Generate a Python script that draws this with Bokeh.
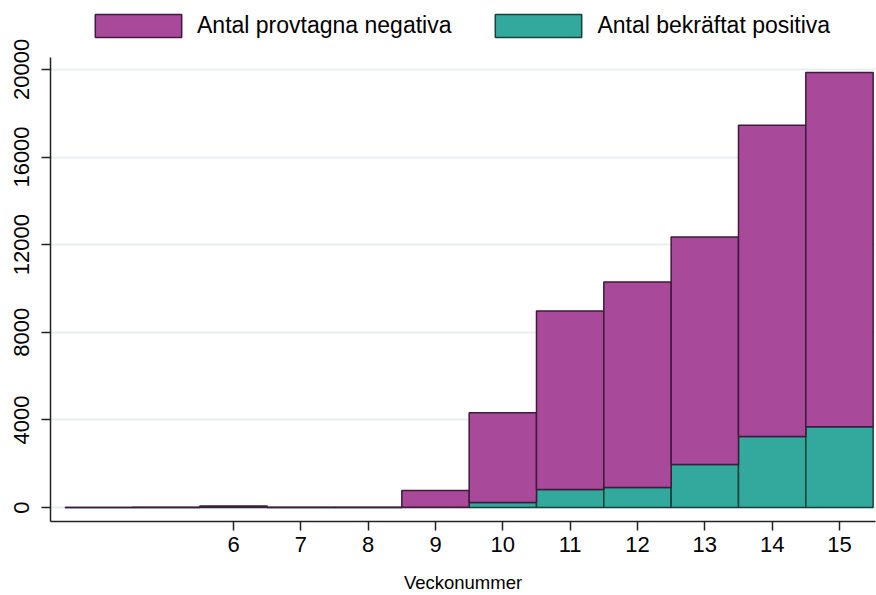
from bokeh.plotting import figure
from bokeh.models import Range1d, FixedTicker, Legend, LegendItem
from bokeh.embed import file_html
from bokeh.resources import INLINE

weeks = [4, 5, 6, 7, 8, 9, 10, 11, 12, 13, 14, 15]
positive = [0, 0, 35, 1, 1, 12, 225, 820, 910, 1960, 3240, 3690]
negative = [5, 8, 40, 12, 12, 760, 4100, 8150, 9390, 10390, 14210, 16170]
x_ticks = [6, 7, 8, 9, 10, 11, 12, 13, 14, 15]
y_ticks = [0, 4000, 8000, 12000, 16000, 20000]
labels = ["Antal provtagna negativa", "Antal bekräftat positiva"]

total = [p + n for p, n in zip(positive, negative)]

PURPLE = "#a8499a"
TEAL = "#33a99e"
FONT = "Liberation Sans"

p = figure(width=876, height=595, output_backend="svg", toolbar_location=None,
           x_range=Range1d(3.282, 15.535), y_range=Range1d(-638, 22779),
           min_border_left=50, min_border_right=1, min_border_top=8, min_border_bottom=73)
p.outline_line_color = None
p.background_fill_color = "white"
p.border_fill_color = "white"

r_pos = p.vbar(x=weeks, top=positive, bottom=0, width=1.0, fill_color=TEAL,
               line_color="#17403b", line_width=1.5)
r_neg = p.vbar(x=weeks, top=total, bottom=positive, width=1.0, fill_color=PURPLE,
               line_color="#3f1a3a", line_width=1.5)

p.xgrid.visible = False
p.ygrid.ticker = FixedTicker(ticks=y_ticks)
p.ygrid.grid_line_color = "#e9f0f2"
p.ygrid.grid_line_width = 2

for ax in (p.xaxis[0], p.yaxis[0]):
    ax.axis_line_color = "#222222"
    ax.axis_line_width = 1.5
    ax.major_tick_line_color = "#222222"
    ax.major_tick_line_width = 1.5
    ax.major_tick_out = 9
    ax.major_tick_in = 0
    ax.minor_tick_line_color = None
    ax.major_label_text_font = FONT
    ax.major_label_text_font_size = "22px"
    ax.major_label_text_color = "black"

p.xaxis.ticker = FixedTicker(ticks=x_ticks)
p.xaxis.major_label_standoff = 6
p.xaxis.axis_label = "Veckonummer"
p.xaxis.axis_label_text_font = FONT
p.xaxis.axis_label_text_font_size = "18.5px"
p.xaxis.axis_label_text_font_style = "normal"
p.xaxis.axis_label_text_color = "black"
p.xaxis.axis_label_standoff = 17

p.yaxis.ticker = FixedTicker(ticks=y_ticks)
p.yaxis.bounds = (-638, 20547)
p.yaxis.major_label_orientation = "vertical"
p.yaxis.major_label_standoff = 12

legend = Legend(items=[LegendItem(label=labels[0], renderers=[r_neg]),
                       LegendItem(label=labels[1], renderers=[r_pos])],
                orientation="horizontal", location=(34, 481),
                glyph_width=108, glyph_height=29, label_height=29,
                label_standoff=5, spacing=33, padding=0, margin=0,
                label_text_font=FONT, label_text_font_size="23px",
                label_text_color="black",
                border_line_color=None, background_fill_alpha=0)
p.add_layout(legend, "center")

open("out.html", "w").write(file_html(p, INLINE))
